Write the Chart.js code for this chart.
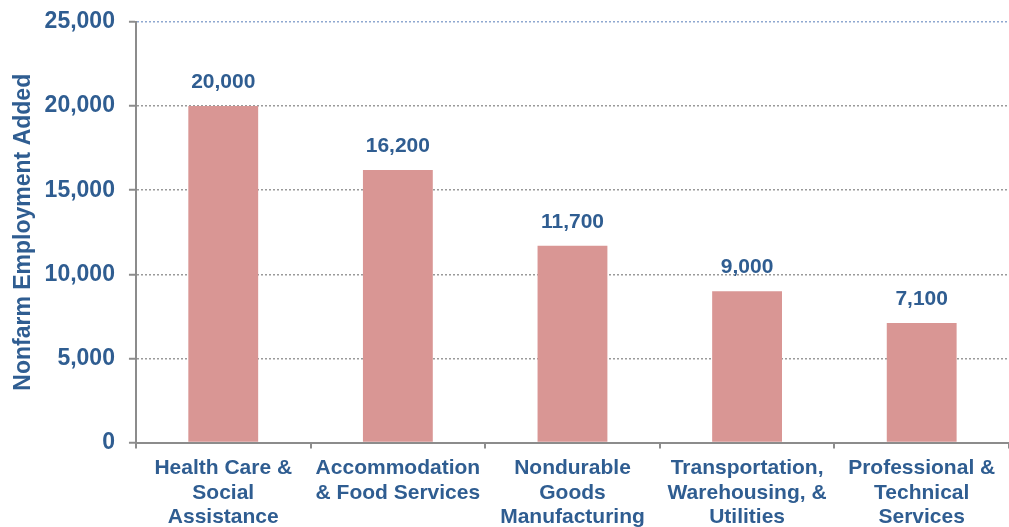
<!DOCTYPE html>
<html><head><meta charset="utf-8">
<script src="https://cdn.jsdelivr.net/npm/chart.js@4"></script>
<style>
html,body{margin:0;padding:0;background:#fff;overflow:hidden}
#wrap{position:relative;width:1009px;height:537px}
</style></head>
<body><div id="wrap"><canvas id="c"></canvas></div>
<script>
const categories = [
  ["Health Care &","Social","Assistance"],
  ["Accommodation","& Food Services"],
  ["Nondurable","Goods","Manufacturing"],
  ["Transportation,","Warehousing, &","Utilities"],
  ["Professional &","Technical","Services"]
];
const employmentAdded = [20000, 16200, 11700, 9000, 7100];
const yTicks = [0, 5000, 10000, 15000, 20000, 25000];

const textColor = '#2F5D91';
const fontFam = '"Liberation Sans", Arial, sans-serif';

const dataLabels = {
  id: 'dataLabels',
  afterDatasetsDraw(chart) {
    const ctx = chart.ctx;
    const meta = chart.getDatasetMeta(0);
    ctx.save();
    ctx.font = 'bold 21px ' + fontFam;
    ctx.fillStyle = textColor;
    ctx.textAlign = 'center';
    ctx.textBaseline = 'middle';
    meta.data.forEach((bar, i) => {
      ctx.fillText(employmentAdded[i].toLocaleString('en-US'), bar.x, bar.y - 24);
    });
    ctx.restore();
  }
};

new Chart(document.getElementById('c'), {
  type: 'bar',
  data: {
    labels: categories,
    datasets: [{
      data: employmentAdded,
      backgroundColor: '#D99694',
      borderWidth: 0,
      categoryPercentage: 1.0,
      barPercentage: 0.4
    }]
  },
  options: {
    responsive: true,
    maintainAspectRatio: false,
    animation: false,
    layout: { padding: { top: 0, right: 0, left: 6, bottom: 0 } },
    plugins: { legend: { display: false }, tooltip: { enabled: false } },
    scales: {
      x: {
        offset: true,
        grid: {
          display: true,
          drawOnChartArea: false,
          drawTicks: true,
          tickLength: 6,
          color: '#8c8c8c',
          lineWidth: 2,
          offset: true
        },
        border: { display: true, color: '#8c8c8c', width: 2 },
        ticks: {
          color: textColor,
          font: { family: fontFam, size: 21, weight: 'bold', lineHeight: 1.15 },
          padding: 8,
          maxRotation: 0,
          autoSkip: false
        }
      },
      y: {
        min: 0,
        max: 25000,
        afterBuildTicks(axis) { axis.ticks = yTicks.map(v => ({ value: v })); },
        afterFit(axis) { axis.paddingTop = 22; },
        grid: {
          color: (c) => c.tick && c.tick.value === 25000 ? '#8FA8D0' : '#9a9a9a',
          lineWidth: 1.5,
          tickBorderDash: [],
          tickColor: '#8c8c8c',
          tickLength: 7,
          tickWidth: 2
        },
        border: { display: true, color: '#8c8c8c', width: 2, dash: [2, 2] },
        ticks: {
          color: textColor,
          font: { family: fontFam, size: 23, weight: 'bold' },
          padding: 14,
          callback: (v) => v.toLocaleString('en-US')
        },
        title: {
          display: true,
          text: 'Nonfarm Employment Added',
          color: textColor,
          font: { family: fontFam, size: 23, weight: 'bold' },
          padding: { top: 4, bottom: -7 }
        }
      }
    }
  },
  plugins: [dataLabels]
});
</script></body></html>
